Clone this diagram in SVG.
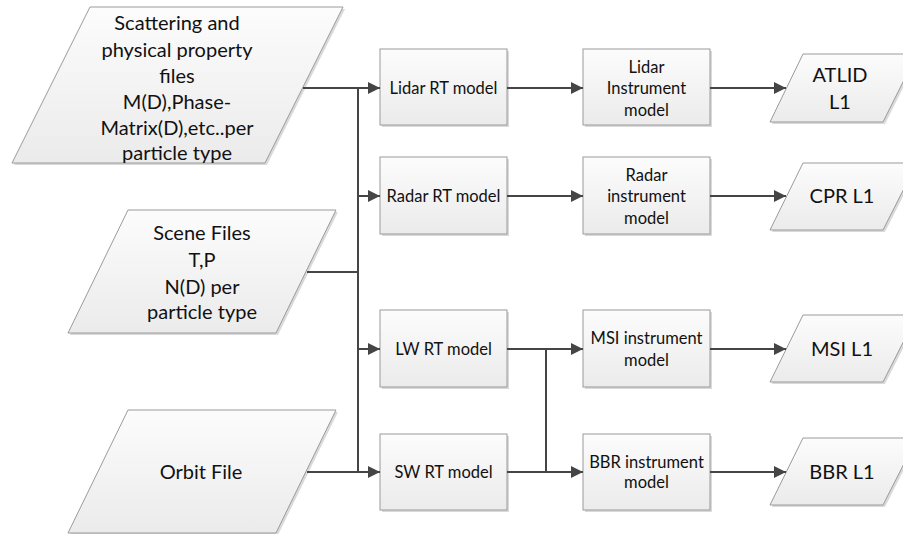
<svg xmlns="http://www.w3.org/2000/svg" width="903" height="534" viewBox="0 0 903 534">
<defs>
<linearGradient id="g" x1="0" y1="0" x2="0" y2="1">
<stop offset="0" stop-color="#fcfcfc"/>
<stop offset="1" stop-color="#ebebeb"/>
</linearGradient>
<marker id="ah" markerUnits="userSpaceOnUse" markerWidth="13" markerHeight="12" refX="12" refY="6" orient="auto">
<path d="M0,0 L12,6 L0,12 z" fill="#454545"/>
</marker>
</defs>
<style>
.sh{fill:#dadada;stroke:none}
.s{fill:url(#g);stroke:#9a9a9a;stroke-width:1}
.t{font-family:Lato,"Liberation Sans",sans-serif;fill:#111;text-anchor:middle}
.big{font-size:20px}
.sm{font-size:16.5px}
.c path{fill:none;stroke:#454545;stroke-width:2}
</style>
<rect width="903" height="534" fill="#fff"/>

<g id="scattering">
<polygon class="sh" points="92,9 345,9 267,165 14,165"/>
<polygon class="s" points="90,7 343,7 265,163 12,163"/>
<text class="t big" x="177" y="30">Scattering and</text>
<text class="t big" x="177" y="57">physical property</text>
<text class="t big" x="177" y="83">files</text>
<text class="t big" x="177" y="109">M(D),Phase-</text>
<text class="t big" x="177" y="135">Matrix(D),etc..per</text>
<text class="t big" x="177" y="160">particle type</text>
</g>

<g id="scene">
<polygon class="sh" points="130,212 338,212 278,335 70,335"/>
<polygon class="s" points="128,210 336,210 276,333 68,333"/>
<text class="t big" x="202" y="240">Scene Files</text>
<text class="t big" x="202" y="267">T,P</text>
<text class="t big" x="202" y="294">N(D) per</text>
<text class="t big" x="202" y="319">particle type</text>
</g>

<g id="orbit">
<polygon class="sh" points="130,412 338,412 278,535 70,535"/>
<polygon class="s" points="128,410 336,410 276,533 68,533"/>
<text class="t big" x="201" y="479">Orbit File</text>
</g>

<g id="lidarRT">
<rect class="sh" x="382" y="51" width="127" height="76"/>
<rect class="s" x="380" y="49" width="127" height="76"/>
<text class="t sm" x="443.5" y="94">Lidar RT model</text>
</g>
<g id="radarRT">
<rect class="sh" x="382" y="159" width="127" height="77"/>
<rect class="s" x="380" y="157" width="127" height="77"/>
<text class="t sm" x="443.5" y="202">Radar RT model</text>
</g>
<g id="lwRT">
<rect class="sh" x="382" y="312" width="127" height="77"/>
<rect class="s" x="380" y="310" width="127" height="77"/>
<text class="t sm" x="443.5" y="355">LW RT model</text>
</g>
<g id="swRT">
<rect class="sh" x="382" y="436" width="127" height="76"/>
<rect class="s" x="380" y="434" width="127" height="76"/>
<text class="t sm" x="443.5" y="478">SW RT model</text>
</g>

<g id="lidarInst">
<rect class="sh" x="585" y="51" width="127" height="76"/>
<rect class="s" x="583" y="49" width="127" height="76"/>
<text class="t sm" x="646.5" y="73">Lidar</text>
<text class="t sm" x="646.5" y="94">Instrument</text>
<text class="t sm" x="646.5" y="116">model</text>
</g>
<g id="radarInst">
<rect class="sh" x="585" y="159" width="127" height="77"/>
<rect class="s" x="583" y="157" width="127" height="77"/>
<text class="t sm" x="646.5" y="181">Radar</text>
<text class="t sm" x="646.5" y="202">instrument</text>
<text class="t sm" x="646.5" y="224">model</text>
</g>
<g id="msiInst">
<rect class="sh" x="585" y="312" width="127" height="77"/>
<rect class="s" x="583" y="310" width="127" height="77"/>
<text class="t sm" x="646.5" y="344">MSI instrument</text>
<text class="t sm" x="646.5" y="366">model</text>
</g>
<g id="bbrInst">
<rect class="sh" x="585" y="436" width="127" height="76"/>
<rect class="s" x="583" y="434" width="127" height="76"/>
<text class="t sm" x="646.5" y="468">BBR instrument</text>
<text class="t sm" x="646.5" y="488">model</text>
</g>

<g id="atlid">
<polygon class="sh" points="805,56 919,56 885,124 772,124"/>
<polygon class="s" points="803,54 917,54 883,122 770,122"/>
<text class="t big" x="840" y="82">ATLID</text>
<text class="t big" x="840" y="109">L1</text>
</g>
<g id="cpr">
<polygon class="sh" points="805,165 919,165 885,232 772,232"/>
<polygon class="s" points="803,163 917,163 883,230 770,230"/>
<text class="t big" x="842" y="203">CPR L1</text>
</g>
<g id="msi">
<polygon class="sh" points="805,317 919,317 885,384 772,384"/>
<polygon class="s" points="803,315 917,315 883,382 770,382"/>
<text class="t big" x="842" y="356">MSI L1</text>
</g>
<g id="bbr">
<polygon class="sh" points="805,440 919,440 885,507 772,507"/>
<polygon class="s" points="803,438 917,438 883,505 770,505"/>
<text class="t big" x="842" y="479">BBR L1</text>
</g>

<g id="connectors" class="c">
<path d="M303,88 H380" marker-end="url(#ah)"/>
<path d="M358,88 V472"/>
<path d="M307,272 H358"/>
<path d="M307,472 H380" marker-end="url(#ah)"/>
<path d="M358,196 H380" marker-end="url(#ah)"/>
<path d="M358,349 H380" marker-end="url(#ah)"/>
<path d="M507,88 H583" marker-end="url(#ah)"/>
<path d="M507,196 H583" marker-end="url(#ah)"/>
<path d="M507,349 H583" marker-end="url(#ah)"/>
<path d="M507,472 H583" marker-end="url(#ah)"/>
<path d="M546,349 V472"/>
<path d="M710,88 H786" marker-end="url(#ah)"/>
<path d="M710,196 H786" marker-end="url(#ah)"/>
<path d="M710,349 H786" marker-end="url(#ah)"/>
<path d="M710,472 H786" marker-end="url(#ah)"/>
</g>
</svg>
